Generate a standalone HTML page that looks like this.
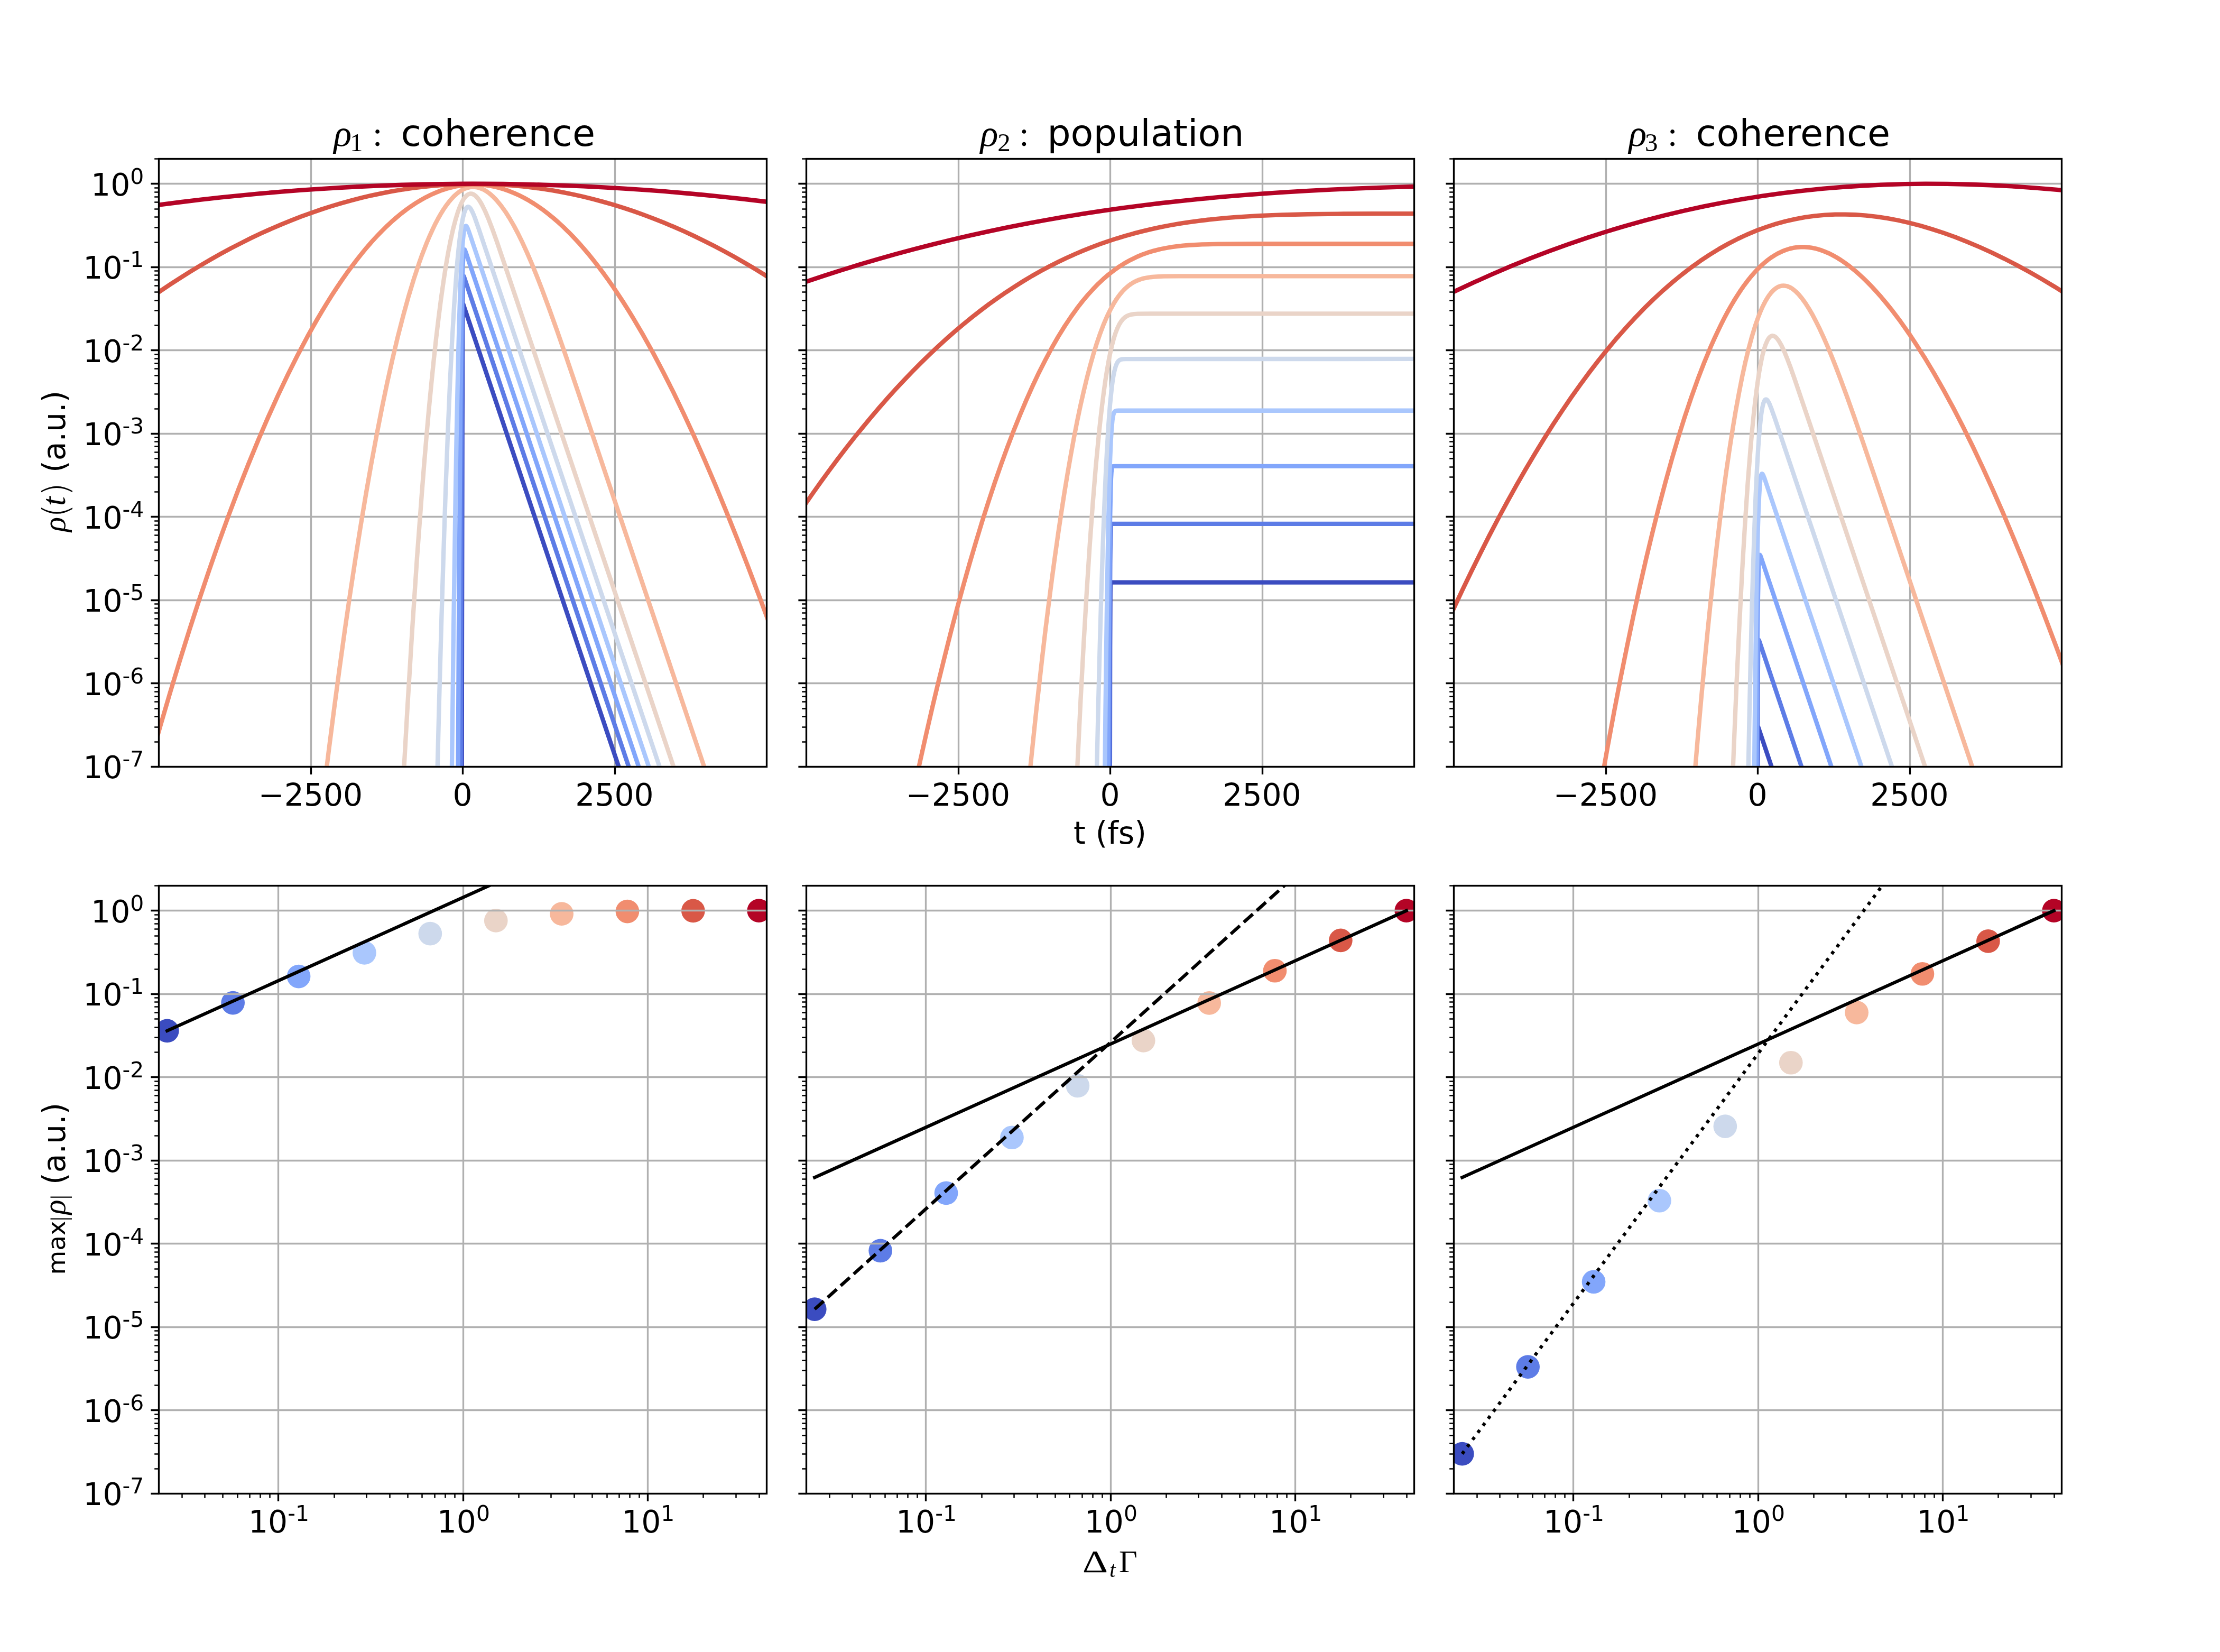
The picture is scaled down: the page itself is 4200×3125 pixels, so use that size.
<!DOCTYPE html>
<html lang="en"><head><meta charset="utf-8"><title>rho figure</title>
<style>html,body{margin:0;padding:0;background:#fff}svg{display:block;will-change:transform}text{font-family:"DejaVu Sans","Liberation Sans",sans-serif;fill:#000}.m{font-family:"Liberation Serif","DejaVu Serif",serif}.mi{font-family:"Liberation Serif","DejaVu Serif",serif;font-style:italic}.p{font-family:"DejaVu Sans",sans-serif;font-weight:200}.g{stroke:#b0b0b0;stroke-width:3.333;fill:none}.s{stroke:#000;stroke-width:3.333;fill:none;stroke-linecap:square}.tk{stroke:#000;stroke-width:3.333;fill:none}.mt{stroke:#000;stroke-width:2.5;fill:none}.c{fill:none;stroke-width:8.333;stroke-linejoin:round;stroke-linecap:butt}.k{fill:none;stroke:#000;stroke-width:6.25;stroke-linecap:square}.c,.k,circle{transform:translate(.25px,.25px)}</style></head><body>
<svg width="4200" height="3125" viewBox="0 0 4200 3125">
<rect width="4200" height="3125" fill="#fff"/>
<defs>
<clipPath id="cp00"><rect x="300.25" y="300.25" width="1150" height="1150"/></clipPath>
<clipPath id="cp01"><rect x="1525.25" y="300.25" width="1150" height="1150"/></clipPath>
<clipPath id="cp02"><rect x="2750.25" y="300.25" width="1150" height="1150"/></clipPath>
<clipPath id="cp10"><rect x="300.25" y="1675.25" width="1150" height="1150"/></clipPath>
<clipPath id="cp11"><rect x="1525.25" y="1675.25" width="1150" height="1150"/></clipPath>
<clipPath id="cp12"><rect x="2750.25" y="1675.25" width="1150" height="1150"/></clipPath>
</defs>
<g clip-path="url(#cp00)">
<path class="g" d="M588.5 300V1451M875.5 300V1451M1163.5 300V1451M300 1450.5H1451M300 1292.5H1451M300 1135.5H1451M300 977.5H1451M300 820.5H1451M300 662.5H1451M300 505.5H1451M300 347.5H1451"/>
<path class="c" stroke="#3b4cc0" d="M873 1850.1 873.7 1219 874.4 811.6 875 618.7 875.4 583.5 875.6 576.7 875.9 574.7 1304.8 1850.1"/>
<path class="c" stroke="#5d7ce6" d="M870.5 1850.2 871.9 1205.7 873.4 783 874.1 655.7 874.9 573.7 875.7 532.9 876.2 524.3 876.4 522.4 876.8 521.8 877.3 522.6 878.5 526 1323.7 1850"/>
<path class="c" stroke="#82a6fb" d="M864.4 1850.2 866.1 1495.8 867.7 1196.1 869.4 950.9 871 759.1 872.7 622.8 874.4 532.8 875.2 504.5 876.2 485.5 877.2 475.1 877.7 472.6 878.1 472 878.4 471.8 879 472.2 879.7 473.6 882.3 481 1342.6 1850.1"/>
<path class="c" stroke="#aac7fd" d="M850.5 1850.3 854.2 1493.5 857.8 1190.3 861.5 939.6 863.3 834 865.2 741.2 867 662.7 868.9 596.2 870.7 541.3 872.6 497.9 874.6 465.8 875.6 453.6 876.6 443.8 877.6 436.4 878.7 431.2 879.9 428.1 880.5 427.4 881.2 427.1 881.9 427.4 882.6 428.1 884.3 431.2 886.4 436.7 890 447 1361.7 1850.1"/>
<path class="c" stroke="#cdd9ec" d="M818.3 1850.1 822.3 1665.3 826.4 1493.6 830.4 1334.5 834.5 1188.1 838.6 1054.6 842.6 933.9 846.7 825.5 850.8 729.8 854.9 647.4 859 576.9 863.2 518.2 865.2 493.2 867.3 471.1 869.4 451.8 871.6 435.4 873.7 421.5 875.9 410.3 878.2 401.8 880.5 395.7 881.6 393.6 882.8 392.1 884.1 391.2 885.3 390.9 886.2 391 887.2 391.4 889.1 393.2 891.1 396.1 893.3 400.3 895.7 405.6 898.4 412.5 905.9 433.9 1382 1850"/>
<path class="c" stroke="#ead4c8" d="M743.8 1850.3 752.8 1666.5 761.7 1495.1 770.7 1336.2 779.7 1189.5 788.7 1055.1 797.8 932.9 802.3 876.4 806.8 822.8 811.3 772.3 815.9 724.9 820.4 680.7 824.9 639.4 829.5 601.1 834 565.8 838.6 533.5 843.1 504 847.7 477.4 852.3 453.8 856.9 433.1 861.6 415.2 866.2 400.1 868.6 393.6 871 387.8 873.3 382.7 875.7 378.3 878.1 374.6 880.6 371.5 883 369.2 885.4 367.5 887.9 366.5 890.4 366.2 892.9 366.5 895.5 367.5 898 369.1 900.7 371.4 903.3 374.4 906.1 378 908.9 382.4 911.7 387.4 917.7 399.5 924.2 414.7 931.5 433.8 940.3 458.4 969.1 543.3 1408.5 1850"/>
<path class="c" stroke="#f7b89c" d="M572.2 1850.1 582.2 1757.4 592.2 1667.4 602.2 1580.5 612.2 1496.6 622.2 1416 632.2 1338.1 642.2 1263.2 652.2 1191.3 662.2 1122.4 672.2 1056.5 682.2 993.6 692.2 933.7 702.2 876.8 712.3 822.7 722.3 771.6 732.3 723.6 742.4 678.5 752.4 636.4 762.5 597.2 772.5 561 782.6 527.7 792.7 497.3 797.7 483.2 802.8 469.9 807.8 457.3 812.9 445.4 818 434.2 823 423.8 828.1 414.1 833.2 405.1 838.3 396.8 843.4 389.2 848.5 382.4 853.6 376.3 858.7 370.9 863.8 366.3 869 362.3 874.1 359.1 879.3 356.6 884.4 354.8 889.6 353.7 894.8 353.4 898.5 353.6 902.3 354.1 906 355 909.7 356.3 913.5 357.9 917.3 359.9 921.1 362.3 924.8 365 928.6 368.1 932.4 371.6 936.3 375.4 940.1 379.6 947.9 389.1 955.8 400.1 963.7 412.5 971.8 426.5 980 442 988.4 459.2 997 478 1005.9 498.7 1015.1 521.4 1024.9 546.4 1038.4 582.7 1053.5 624.8 1070.9 674.9 1093 739.8 1466.6 1850.4"/>
<path class="c" stroke="#f18d6f" d="M265.5 1507.6 284.1 1440.1 302.6 1374.7 321.2 1311.2 339.8 1249.8 358.4 1190.4 377 1133.1 395.6 1077.8 414.2 1024.5 432.8 973.3 451.4 924 470 876.9 488.6 831.7 507.2 788.5 525.8 747.4 544.4 708.3 563 671.2 581.6 636.1 591 619.4 600.3 603.1 609.6 587.3 618.9 572.1 628.2 557.3 637.5 543.1 646.8 529.4 656.1 516.1 665.5 503.4 674.8 491.2 684.1 479.5 693.4 468.2 702.7 457.5 712.1 447.3 721.4 437.6 730.7 428.4 740 419.7 749.4 411.5 758.7 403.8 768 396.6 777.4 389.9 786.7 383.8 796.1 378.1 805.4 372.9 814.8 368.2 824.2 364.1 833.5 360.4 842.9 357.2 852.2 354.6 861.6 352.4 870.8 350.8 880.1 349.6 889.3 349 898.6 348.8 907.8 349.1 917 349.9 926.3 351.2 935.5 353 944.8 355.3 954.1 358.1 963.3 361.3 972.6 365.1 981.9 369.3 991.2 374 1000.5 379.2 1009.8 384.9 1019.1 391.1 1028.4 397.7 1037.7 404.9 1047 412.5 1056.4 420.7 1065.7 429.3 1075.1 438.4 1084.4 448 1093.8 458.1 1103.2 468.7 1112.6 479.8 1122 491.4 1131.5 503.5 1140.9 516 1150.4 529.1 1159.9 542.7 1169.2 556.6 1178.6 570.9 1188 585.7 1197.4 601.1 1216.3 633.2 1235.3 667.3 1254.4 703.5 1273.7 741.7 1293.2 782.2 1312.9 824.8 1332.6 869.3 1352.7 916.2 1373.1 965.6 1394 1017.7 1415.4 1072.7 1437.4 1131 1460.4 1193.1 1484.5 1259.9"/>
<path class="c" stroke="#d95847" d="M265.5 576.7 284.6 563.1 303.5 550 322.5 537.3 341.6 524.9 360.6 513 379.6 501.5 398.7 490.4 417.7 479.7 436.7 469.4 455.8 459.6 474.8 450.1 493.8 441.1 512.9 432.5 531.9 424.3 550.9 416.6 570 409.2 589 402.3 608 395.7 627.1 389.6 646.1 383.9 665.1 378.7 684.2 373.8 703.2 369.3 722.3 365.3 741.3 361.7 760.3 358.5 779.4 355.7 798.4 353.3 817.4 351.4 836.5 349.8 855.5 348.7 874.6 348 893.6 347.7 912.7 347.8 931.8 348.3 950.8 349.3 969.8 350.6 988.9 352.4 1007.9 354.6 1027 357.2 1046 360.2 1065 363.7 1084.1 367.5 1103.2 371.8 1122.2 376.5 1141.3 381.6 1160.3 387.1 1179.4 393 1198.4 399.3 1217.5 406.1 1236.6 413.3 1255.7 420.9 1274.7 428.9 1293.8 437.3 1312.8 446.1 1331.9 455.4 1350.9 465 1370 475.1 1389.1 485.6 1408.2 496.6 1427.3 507.9 1446.3 519.6 1465.4 531.8 1484.5 544.4"/>
<path class="c" stroke="#b40426" d="M265.6 392.1 303.6 386.9 341.8 382 379.9 377.4 417.9 373.2 456 369.3 494.1 365.7 532.2 362.4 570.3 359.4 608.4 356.8 646.5 354.5 684.6 352.5 722.6 350.9 760.7 349.5 798.8 348.5 836.9 347.8 875 347.5 913.1 347.4 951.2 347.7 989.3 348.3 1027.4 349.3 1065.4 350.6 1103.5 352.1 1141.6 354.1 1179.7 356.3 1217.8 358.9 1255.9 361.7 1294 365 1332.1 368.5 1370.1 372.4 1408.2 376.5 1446.3 381 1484.4 385.9"/>
</g>
<g clip-path="url(#cp01)">
<path class="g" d="M1813.5 300V1451M2100.5 300V1451M2388.5 300V1451M1525 1450.5H2676M1525 1292.5H2676M1525 1135.5H2676M1525 977.5H2676M1525 820.5H2676M1525 662.5H2676M1525 505.5H2676M1525 347.5H2676"/>
<path class="c" stroke="#3b4cc0" d="M2099.1 1850.4 2099.9 1223.9 2100.4 1122.8 2100.6 1105.8 2100.8 1102.6 2101.1 1101.4 2101.8 1101.3 2709.5 1101.3"/>
<path class="c" stroke="#5d7ce6" d="M2097.7 1850.2 2098.7 1415.1 2099.6 1143.5 2100.1 1067.5 2100.7 1020.3 2101.3 997.8 2101.6 992.9 2102.2 990.9 2102.6 990.6 2103.8 990.6 2709.5 990.6"/>
<path class="c" stroke="#82a6fb" d="M2094.4 1850.1 2096.6 1375.1 2097.7 1202.3 2098.8 1070.5 2099.9 980.8 2101.1 923.1 2101.7 905.3 2102.4 893.2 2103.2 886.1 2103.7 884 2104.3 882.6 2104.7 882.1 2105.4 881.8 2107.8 881.6 2709.5 881.6"/>
<path class="c" stroke="#aac7fd" d="M2086.3 1850.5 2088.8 1575.5 2091.2 1344.2 2093.7 1155.9 2096.2 1009.3 2098.7 905.2 2100 866.1 2101.3 835.2 2102.7 812.3 2104.2 795.8 2105 789.8 2105.9 785.2 2106.9 781.7 2107.9 779.3 2109.1 777.8 2110.5 777 2112.3 776.6 2115.6 776.5 2709.5 776.5"/>
<path class="c" stroke="#cdd9ec" d="M2067.1 1850.5 2072.4 1567.3 2075.1 1441.7 2077.8 1326.2 2080.5 1221.1 2083.2 1126.1 2085.9 1041.3 2088.7 966.5 2091.4 902.6 2094.2 847.8 2097 801.8 2099.9 764 2102.9 734.4 2104.4 722.4 2106 712.1 2107.7 703.5 2109.4 696.4 2111.2 690.7 2113.2 686.3 2114.5 684.2 2115.9 682.5 2117.5 681.2 2119.2 680.2 2121.1 679.6 2123.3 679.1 2129.9 678.8 2709.5 678.7"/>
<path class="c" stroke="#ead4c8" d="M2021.2 1850.2 2026.9 1704.7 2032.6 1568.5 2038.4 1441.9 2044.1 1325.2 2049.9 1217.5 2055.7 1119.2 2061.5 1030 2067.3 950.1 2073.1 879.9 2079 818.2 2082 790.4 2085 764.8 2088 741.2 2091 719.6 2094.1 700.1 2097.2 682.5 2100.3 666.7 2103.6 652.6 2106.8 640.4 2110.2 629.8 2113.7 620.8 2117.3 613.3 2120.5 608.1 2123.8 603.9 2127.4 600.5 2131.2 597.8 2135.3 596 2140 594.7 2145.6 593.8 2152.7 593.4 2176.6 593.2 2709.5 593.2"/>
<path class="c" stroke="#f7b89c" d="M1912.7 1850 1924.5 1712 1936.3 1582.2 1948.1 1460.3 1960 1346.3 1971.9 1240.2 1977.8 1190.1 1983.8 1142 1989.7 1095.9 1995.7 1051.6 2001.7 1009.2 2007.7 968.8 2013.7 930.5 2019.7 894.1 2025.7 859.7 2031.7 827 2037.7 796.3 2043.8 767.2 2050 740 2056.1 714.6 2062.3 691 2068.5 669.2 2074.8 649.1 2081.1 630.7 2087.4 614 2093.9 598.9 2100.5 585.4 2107.2 573.3 2111 567.2 2114.9 561.5 2118.9 556.2 2122.9 551.5 2127 547.1 2131.2 543.2 2135.5 539.7 2140 536.5 2144.5 533.8 2149.1 531.4 2154 529.3 2159.1 527.6 2164.5 526.1 2170.2 525 2176.4 524 2183.2 523.3 2191.4 522.8 2201.1 522.4 2229.9 522.1 2709.5 522.1"/>
<path class="c" stroke="#f18d6f" d="M1658.3 1850.3 1670 1787.2 1681.7 1725.4 1693.4 1665.5 1705.1 1607 1716.8 1550.1 1728.5 1494.6 1740.3 1440.7 1752 1388.3 1763.7 1337.5 1775.5 1288.2 1787.3 1240.4 1799 1194.1 1810.8 1149.4 1822.6 1106.2 1834.4 1064.5 1846.3 1024.3 1858 985.7 1869.9 948.5 1881.7 912.9 1893.6 878.7 1905.5 845.9 1917.4 814.8 1929.4 785 1941.4 756.7 1953.4 729.8 1965.4 704.3 1977.6 680.3 1989.7 657.6 2001.9 636.4 2014.2 616.5 2026.6 598 2039 580.8 2048.5 568.6 2058.1 557.3 2067.7 546.7 2077.4 536.7 2087.2 527.5 2097.1 519 2107.2 511.2 2117.4 504 2127.7 497.5 2138.2 491.7 2148.9 486.4 2159.9 481.7 2171.2 477.6 2182.9 474.1 2195 471 2207.8 468.5 2217.3 466.9 2227.3 465.6 2237.8 464.4 2249 463.5 2273.8 462.2 2304.5 461.4 2374.5 461 2709.5 461"/>
<path class="c" stroke="#d95847" d="M1490.5 1002.2 1506.1 978.6 1521.8 955.5 1537.4 933 1553.1 910.9 1568.8 889.4 1584.5 868.3 1600.2 847.8 1615.9 827.8 1631.7 808.3 1647.4 789.3 1663.2 770.8 1679 752.8 1694.8 735.3 1710.7 718.3 1726.5 701.8 1742.5 685.7 1758.4 670.2 1774.3 655.2 1790.3 640.7 1806.3 626.6 1822.3 613.1 1838.4 600 1854.6 587.4 1870.8 575.2 1887 563.6 1903.3 552.4 1919.7 541.7 1936.1 531.4 1952.6 521.5 1969.2 512.2 1985.9 503.3 2002.7 494.8 2017.9 487.5 2033.4 480.5 2048.9 473.9 2064.5 467.6 2080.3 461.7 2096.2 456.1 2112.2 450.9 2128.5 446 2144.8 441.4 2161.5 437.1 2178.3 433.1 2195.4 429.4 2212.8 426 2230.5 422.9 2248.6 420.1 2267.2 417.6 2284.6 415.5 2302.6 413.6 2321 411.9 2340.1 410.4 2380.6 407.9 2425.4 406.1 2473.3 405 2530.3 404.3 2601.4 403.9 2709.5 403.8"/>
<path class="c" stroke="#b40426" d="M1490.6 544.5 1524.3 532.8 1558.3 521.5 1592.3 510.6 1626.4 500.1 1660.6 490 1695 480.3 1729.5 471 1764.2 462.1 1799 453.5 1834 445.4 1869.2 437.6 1904.6 430.2 1940.2 423.1 1976 416.5 2012.2 410.1 2048.7 404.2 2084.9 398.6 2121.5 393.4 2158.5 388.6 2196 384 2234 379.8 2272.5 375.9 2311.7 372.2 2351.5 368.9 2391.9 365.9 2433.2 363.1 2475.6 360.6 2519.1 358.4 2564 356.4 2610.4 354.7 2658.8 353.2 2709.4 351.9"/>
</g>
<g clip-path="url(#cp02)">
<path class="g" d="M3038.5 300V1451M3325.5 300V1451M3613.5 300V1451M2750 1450.5H3901M2750 1292.5H3901M2750 1135.5H3901M2750 977.5H3901M2750 820.5H3901M2750 662.5H3901M2750 505.5H3901M2750 347.5H3901"/>
<path class="c" stroke="#3b4cc0" d="M3324.6 1850.2 3325.1 1455.8 3325.5 1390 3325.7 1378.1 3326 1374.9 3485.9 1850"/>
<path class="c" stroke="#5d7ce6" d="M3323.7 1850 3324.4 1527.4 3325.1 1326.3 3325.9 1233.2 3326.4 1215.3 3326.7 1211.5 3327.1 1210.3 3327.6 1211 3328.6 1213.9 3542.5 1850.1"/>
<path class="c" stroke="#82a6fb" d="M3321.3 1850.5 3323 1456.2 3323.9 1313.3 3324.8 1204.5 3325.7 1130 3326.7 1081.8 3327.2 1066.9 3327.8 1056.9 3328.4 1051.3 3328.8 1050 3329.2 1049.5 3329.7 1049.9 3330.3 1051.1 3332.5 1057.4 3599.1 1850.2"/>
<path class="c" stroke="#aac7fd" d="M3315.4 1850.3 3317.3 1600.8 3319.3 1392.1 3321.3 1223.5 3323.4 1092.8 3325.5 1000.5 3326.6 966.2 3327.8 939.3 3329 919.6 3330.2 906.1 3330.9 901.6 3331.7 898.4 3332.5 896.6 3332.9 896.1 3333.3 896 3333.9 896.2 3334.5 896.8 3335.9 899.5 3337.8 904.2 3340.8 913 3655.9 1850"/>
<path class="c" stroke="#cdd9ec" d="M3300.6 1850.3 3305.1 1572.2 3309.7 1337.4 3312 1236.3 3314.3 1145.5 3316.7 1065 3319.1 994.7 3321.4 935.2 3323.9 884.9 3326.3 843.5 3328.9 810.5 3331.5 785.8 3332.9 776.3 3334.4 768.6 3335.8 762.7 3337.4 758.6 3338.2 757.1 3339 756.1 3339.8 755.5 3340.7 755.3 3342.2 755.8 3343.7 757.3 3345.3 759.8 3347.2 763.3 3351.4 773.9 3357.9 792.1 3713.6 1850"/>
<path class="c" stroke="#ead4c8" d="M3264.4 1850.6 3269.5 1694.2 3274.7 1549.6 3279.9 1416.1 3285.1 1293.8 3290.4 1182.7 3295.6 1082.2 3301 992.6 3306.3 913.7 3311.7 845.9 3314.4 815.8 3317.1 788.2 3319.9 763 3322.7 740.1 3325.5 719.5 3328.3 701.4 3331.2 685.6 3334.1 672 3337.1 660.6 3340.2 651.3 3343.3 644.1 3344.9 641.3 3346.5 639 3348.2 637.3 3349.9 636 3351.6 635.2 3353.3 635 3355.2 635.3 3357.1 636.1 3359.1 637.5 3361.2 639.5 3363.3 642.1 3365.5 645.3 3370.1 653.4 3375.1 663.9 3380.6 677.3 3386.9 693.9 3394.5 715.4 3421.1 793.6 3776.3 1850.1"/>
<path class="c" stroke="#f7b89c" d="M3177.1 1850.2 3188.8 1685.3 3200.5 1532 3206.4 1459.5 3212.2 1390.2 3218.1 1323.3 3224 1259.7 3229.9 1198.6 3235.8 1140.6 3241.8 1085.1 3247.7 1032.7 3253.7 982.9 3259.6 936.2 3265.6 892 3271.7 850.3 3277.7 811.7 3283.7 775.9 3289.8 742.7 3295.8 712.1 3301.9 684.2 3308.1 658.8 3314.3 635.9 3320.6 615.5 3326.9 597.7 3330.1 589.7 3333.3 582.3 3336.6 575.5 3339.8 569.3 3343.1 563.8 3346.4 558.8 3349.7 554.4 3353.1 550.6 3356.5 547.4 3359.9 544.8 3363.3 542.7 3366.8 541.3 3370.4 540.4 3373.9 540.1 3376.7 540.3 3379.5 540.8 3382.2 541.6 3385.1 542.8 3388 544.3 3390.8 546.1 3393.8 548.3 3396.7 550.8 3402.7 556.8 3408.9 564.2 3415.3 573 3421.8 583.2 3428.5 594.6 3435.3 607.6 3442.4 621.9 3449.7 637.7 3457.3 655.1 3465.2 674.1 3473.4 694.9 3482.1 717.7 3494.7 751.8 3508.7 791.2 3524.9 838.1 3545.4 898.3 3865.5 1850"/>
<path class="c" stroke="#f18d6f" d="M2969.5 1850 2981.5 1770.7 2993.5 1693.8 3005.5 1619.4 3017.5 1547.3 3029.6 1477.7 3041.6 1410.2 3053.7 1345.1 3065.7 1282.8 3077.9 1222.5 3089.9 1164.8 3102 1109.5 3114.1 1056.5 3126.3 1005.9 3138.4 957.7 3150.6 911.7 3162.8 868 3175 826.8 3187.2 788 3199.5 751.4 3211.8 717.1 3224.1 685.1 3236.4 655.4 3242.7 641.3 3248.9 627.9 3255.1 615 3261.3 602.6 3267.6 590.8 3273.9 579.5 3280.2 568.8 3286.5 558.7 3292.8 549.1 3299.2 539.9 3305.6 531.4 3311.9 523.5 3318.4 516 3324.8 509.1 3331.3 502.7 3337.8 496.9 3344.3 491.5 3350.9 486.7 3357.5 482.5 3364.2 478.7 3371.1 475.4 3378.1 472.6 3385.1 470.4 3392.2 468.7 3399.3 467.6 3406.5 467 3413.8 467 3421.1 467.6 3428.5 468.7 3436 470.3 3443.6 472.5 3451.2 475.3 3459 478.6 3466.8 482.5 3474.7 486.9 3482.7 491.9 3490.9 497.5 3499.2 503.7 3507.6 510.4 3516 517.7 3524.5 525.5 3533.2 534 3541.8 542.9 3550.6 552.5 3559.5 562.6 3568.4 573.2 3577.4 584.3 3586.3 596 3595.4 608.1 3604.4 620.8 3613.6 634 3622.7 647.7 3640.6 675.7 3658.6 705.6 3676.7 737.4 3695 771.1 3713.4 806.7 3731.9 844.2 3750.6 883.7 3769.5 925.2 3788.6 968.5 3807.8 1014 3827.5 1061.9 3847.6 1112.4 3868.1 1165.5 3889.4 1221.7 3911.4 1281.6 3934.5 1345.5"/>
<path class="c" stroke="#d95847" d="M2715.5 1227.4 2732.5 1189.2 2749.5 1151.9 2766.6 1115.5 2783.7 1080.1 2800.8 1045.6 2817.8 1012 2834.9 979.4 2852 947.8 2869.1 917 2886.3 887.1 2903.4 858.3 2920.6 830.2 2937.8 803.1 2955 777 2972.2 751.7 2989.5 727.4 3006.7 704 3024 681.5 3041.4 659.9 3058.7 639.2 3076.1 619.5 3093.5 600.6 3110.9 582.6 3128.4 565.5 3145.9 549.3 3163.5 534 3181.1 519.6 3198.8 506 3216.5 493.3 3234.3 481.5 3252.2 470.5 3270.1 460.5 3287.9 451.4 3305.7 443.1 3323.6 435.7 3341.6 429.1 3359.7 423.3 3378 418.3 3396.4 414.1 3414.9 410.7 3433.6 408.2 3452.4 406.4 3471.5 405.4 3490.7 405.3 3510.2 405.9 3529.9 407.3 3549.8 409.6 3570 412.6 3590.8 416.5 3611.8 421.2 3633.2 426.8 3654.9 433.2 3676.9 440.4 3699.2 448.4 3721.8 457.3 3744.7 467 3767.9 477.5 3791.3 488.9 3814.8 501 3838.6 513.9 3862.4 527.5 3886.4 541.8 3910.3 556.9 3934.5 572.7"/>
<path class="c" stroke="#b40426" d="M2715.6 568.7 2751.2 551.2 2786.9 534.5 2822.7 518.5 2858.5 503.2 2894.4 488.7 2930.4 474.9 2966.5 461.8 3002.7 449.5 3038.9 437.9 3075.3 426.9 3111.8 416.8 3148.5 407.3 3185.3 398.5 3222.3 390.4 3259.5 383 3296.8 376.4 3334.3 370.4 3371.9 365.2 3409.7 360.6 3447.8 356.7 3486.2 353.5 3524.9 351 3563.9 349.1 3603.3 347.9 3643 347.4 3683.2 347.6 3723.8 348.5 3764.9 350 3806.4 352.2 3848.5 355.1 3891.1 358.7 3934.4 362.9"/>
</g>
<g clip-path="url(#cp10)">
<circle cx="316" cy="1949.7" r="22.35" fill="#3b4cc0"/>
<circle cx="440.4" cy="1896.8" r="22.35" fill="#5d7ce6"/>
<circle cx="564.8" cy="1846.8" r="22.35" fill="#82a6fb"/>
<circle cx="689.2" cy="1802.1" r="22.35" fill="#aac7fd"/>
<circle cx="813.6" cy="1765.9" r="22.35" fill="#cdd9ec"/>
<circle cx="938" cy="1741.2" r="22.35" fill="#ead4c8"/>
<circle cx="1062.4" cy="1728.4" r="22.35" fill="#f7b89c"/>
<circle cx="1186.7" cy="1723.8" r="22.35" fill="#f18d6f"/>
<circle cx="1311.1" cy="1722.7" r="22.35" fill="#d95847"/>
<circle cx="1435.5" cy="1722.4" r="22.35" fill="#b40426"/>
<path class="g" d="M526.5 1675V2826M876.5 1675V2826M1225.5 1675V2826M300 2825.5H1451M300 2667.5H1451M300 2510.5H1451M300 2352.5H1451M300 2195.5H1451M300 2037.5H1451M300 1880.5H1451M300 1722.5H1451"/>
<path class="k" d="M316 1949.7L1435.5 1445"/>
</g>
<g clip-path="url(#cp11)">
<circle cx="1541" cy="2476.3" r="22.35" fill="#3b4cc0"/>
<circle cx="1665.4" cy="2365.6" r="22.35" fill="#5d7ce6"/>
<circle cx="1789.8" cy="2256.6" r="22.35" fill="#82a6fb"/>
<circle cx="1914.2" cy="2151.5" r="22.35" fill="#aac7fd"/>
<circle cx="2038.6" cy="2053.7" r="22.35" fill="#cdd9ec"/>
<circle cx="2163" cy="1968.2" r="22.35" fill="#ead4c8"/>
<circle cx="2287.4" cy="1897.1" r="22.35" fill="#f7b89c"/>
<circle cx="2411.7" cy="1836" r="22.35" fill="#f18d6f"/>
<circle cx="2536.1" cy="1778.7" r="22.35" fill="#d95847"/>
<circle cx="2660.5" cy="1722.4" r="22.35" fill="#b40426"/>
<path class="g" d="M1751.5 1675V2826M2101.5 1675V2826M2450.5 1675V2826M1525 2825.5H2676M1525 2667.5H2676M1525 2510.5H2676M1525 2352.5H2676M1525 2195.5H2676M1525 2037.5H2676M1525 1880.5H2676M1525 1722.5H2676"/>
<path class="k" d="M1541 2227.1L2660.5 1722.4"/>
<path class="k" style="stroke-linecap:butt" stroke-dasharray="23.125 10" d="M1541 2476.3L2660.5 1466.9"/>
</g>
<g clip-path="url(#cp12)">
<circle cx="2766" cy="2749.9" r="22.35" fill="#3b4cc0"/>
<circle cx="2890.4" cy="2585.3" r="22.35" fill="#5d7ce6"/>
<circle cx="3014.8" cy="2424.5" r="22.35" fill="#82a6fb"/>
<circle cx="3139.2" cy="2271" r="22.35" fill="#aac7fd"/>
<circle cx="3263.6" cy="2130.3" r="22.35" fill="#cdd9ec"/>
<circle cx="3388" cy="2010" r="22.35" fill="#ead4c8"/>
<circle cx="3512.4" cy="1915.1" r="22.35" fill="#f7b89c"/>
<circle cx="3636.7" cy="1842" r="22.35" fill="#f18d6f"/>
<circle cx="3761.1" cy="1780.2" r="22.35" fill="#d95847"/>
<circle cx="3885.5" cy="1722.4" r="22.35" fill="#b40426"/>
<path class="g" d="M2976.5 1675V2826M3326.5 1675V2826M3675.5 1675V2826M2750 2825.5H3901M2750 2667.5H3901M2750 2510.5H3901M2750 2352.5H3901M2750 2195.5H3901M2750 2037.5H3901M2750 1880.5H3901M2750 1722.5H3901"/>
<path class="k" d="M2766 2227.1L3885.5 1722.4"/>
<path class="k" style="stroke-linecap:butt" stroke-dasharray="6.25 10.3125" d="M2766 2749.9L3885.5 1235.8"/>
</g>
<path class="tk" d="M300.5 1450.5h-15.1M300.5 1292.5h-15.1M300.5 1135.5h-15.1M300.5 977.5h-15.1M300.5 820.5h-15.1M300.5 662.5h-15.1M300.5 505.5h-15.1M300.5 347.5h-15.1M588.5 1450.5v14.6M875.5 1450.5v14.6M1163.5 1450.5v14.6"/>
<path class="mt" d="M300.5 1403.5h-8.3M300.5 1375.5h-8.3M300.5 1355.5h-8.3M300.5 1340.5h-8.3M300.5 1327.5h-8.3M300.5 1317.5h-8.3M300.5 1308.5h-8.3M300.5 1300.5h-8.3M300.5 1245.5h-8.3M300.5 1217.5h-8.3M300.5 1198.5h-8.3M300.5 1182.5h-8.3M300.5 1170.5h-8.3M300.5 1159.5h-8.3M300.5 1150.5h-8.3M300.5 1142.5h-8.3M300.5 1088.5h-8.3M300.5 1060.5h-8.3M300.5 1040.5h-8.3M300.5 1025.5h-8.3M300.5 1012.5h-8.3M300.5 1002.5h-8.3M300.5 993.5h-8.3M300.5 985.5h-8.3M300.5 930.5h-8.3M300.5 902.5h-8.3M300.5 883.5h-8.3M300.5 867.5h-8.3M300.5 855.5h-8.3M300.5 844.5h-8.3M300.5 835.5h-8.3M300.5 827.5h-8.3M300.5 773.5h-8.3M300.5 745.5h-8.3M300.5 725.5h-8.3M300.5 710.5h-8.3M300.5 697.5h-8.3M300.5 687.5h-8.3M300.5 678.5h-8.3M300.5 670.5h-8.3M300.5 615.5h-8.3M300.5 587.5h-8.3M300.5 568.5h-8.3M300.5 552.5h-8.3M300.5 540.5h-8.3M300.5 529.5h-8.3M300.5 520.5h-8.3M300.5 512.5h-8.3M300.5 458.5h-8.3M300.5 430.5h-8.3M300.5 410.5h-8.3M300.5 395.5h-8.3M300.5 382.5h-8.3M300.5 372.5h-8.3M300.5 363.5h-8.3M300.5 355.5h-8.3M300.5 300.5h-8.3"/>
<rect class="s" x="300.5" y="300.5" width="1150" height="1150"/>
<text x="272.3" y="1472.1" text-anchor="end" font-size="58.33">10<tspan dy="-21.8" font-size="40.83">-7</tspan></text>
<text x="272.3" y="1314.6" text-anchor="end" font-size="58.33">10<tspan dy="-21.8" font-size="40.83">-6</tspan></text>
<text x="272.3" y="1157.1" text-anchor="end" font-size="58.33">10<tspan dy="-21.8" font-size="40.83">-5</tspan></text>
<text x="272.3" y="999.6" text-anchor="end" font-size="58.33">10<tspan dy="-21.8" font-size="40.83">-4</tspan></text>
<text x="272.3" y="842.1" text-anchor="end" font-size="58.33">10<tspan dy="-21.8" font-size="40.83">-3</tspan></text>
<text x="272.3" y="684.5" text-anchor="end" font-size="58.33">10<tspan dy="-21.8" font-size="40.83">-2</tspan></text>
<text x="272.3" y="527" text-anchor="end" font-size="58.33">10<tspan dy="-21.8" font-size="40.83">-1</tspan></text>
<text x="272.3" y="369.5" text-anchor="end" font-size="58.33">10<tspan dy="-21.8" font-size="40.83">0</tspan></text>
<text x="587.5" y="1523.9" text-anchor="middle" font-size="58.33">−2500</text>
<text x="875" y="1523.9" text-anchor="middle" font-size="58.33">0</text>
<text x="1162.5" y="1523.9" text-anchor="middle" font-size="58.33">2500</text>
<path class="tk" d="M1525.5 1450.5h-15.1M1525.5 1292.5h-15.1M1525.5 1135.5h-15.1M1525.5 977.5h-15.1M1525.5 820.5h-15.1M1525.5 662.5h-15.1M1525.5 505.5h-15.1M1525.5 347.5h-15.1M1813.5 1450.5v14.6M2100.5 1450.5v14.6M2388.5 1450.5v14.6"/>
<path class="mt" d="M1525.5 1403.5h-8.3M1525.5 1375.5h-8.3M1525.5 1355.5h-8.3M1525.5 1340.5h-8.3M1525.5 1327.5h-8.3M1525.5 1317.5h-8.3M1525.5 1308.5h-8.3M1525.5 1300.5h-8.3M1525.5 1245.5h-8.3M1525.5 1217.5h-8.3M1525.5 1198.5h-8.3M1525.5 1182.5h-8.3M1525.5 1170.5h-8.3M1525.5 1159.5h-8.3M1525.5 1150.5h-8.3M1525.5 1142.5h-8.3M1525.5 1088.5h-8.3M1525.5 1060.5h-8.3M1525.5 1040.5h-8.3M1525.5 1025.5h-8.3M1525.5 1012.5h-8.3M1525.5 1002.5h-8.3M1525.5 993.5h-8.3M1525.5 985.5h-8.3M1525.5 930.5h-8.3M1525.5 902.5h-8.3M1525.5 883.5h-8.3M1525.5 867.5h-8.3M1525.5 855.5h-8.3M1525.5 844.5h-8.3M1525.5 835.5h-8.3M1525.5 827.5h-8.3M1525.5 773.5h-8.3M1525.5 745.5h-8.3M1525.5 725.5h-8.3M1525.5 710.5h-8.3M1525.5 697.5h-8.3M1525.5 687.5h-8.3M1525.5 678.5h-8.3M1525.5 670.5h-8.3M1525.5 615.5h-8.3M1525.5 587.5h-8.3M1525.5 568.5h-8.3M1525.5 552.5h-8.3M1525.5 540.5h-8.3M1525.5 529.5h-8.3M1525.5 520.5h-8.3M1525.5 512.5h-8.3M1525.5 458.5h-8.3M1525.5 430.5h-8.3M1525.5 410.5h-8.3M1525.5 395.5h-8.3M1525.5 382.5h-8.3M1525.5 372.5h-8.3M1525.5 363.5h-8.3M1525.5 355.5h-8.3M1525.5 300.5h-8.3"/>
<rect class="s" x="1525.5" y="300.5" width="1150" height="1150"/>
<text x="1812.5" y="1523.9" text-anchor="middle" font-size="58.33">−2500</text>
<text x="2100" y="1523.9" text-anchor="middle" font-size="58.33">0</text>
<text x="2387.5" y="1523.9" text-anchor="middle" font-size="58.33">2500</text>
<path class="tk" d="M2750.5 1450.5h-15.1M2750.5 1292.5h-15.1M2750.5 1135.5h-15.1M2750.5 977.5h-15.1M2750.5 820.5h-15.1M2750.5 662.5h-15.1M2750.5 505.5h-15.1M2750.5 347.5h-15.1M3038.5 1450.5v14.6M3325.5 1450.5v14.6M3613.5 1450.5v14.6"/>
<path class="mt" d="M2750.5 1403.5h-8.3M2750.5 1375.5h-8.3M2750.5 1355.5h-8.3M2750.5 1340.5h-8.3M2750.5 1327.5h-8.3M2750.5 1317.5h-8.3M2750.5 1308.5h-8.3M2750.5 1300.5h-8.3M2750.5 1245.5h-8.3M2750.5 1217.5h-8.3M2750.5 1198.5h-8.3M2750.5 1182.5h-8.3M2750.5 1170.5h-8.3M2750.5 1159.5h-8.3M2750.5 1150.5h-8.3M2750.5 1142.5h-8.3M2750.5 1088.5h-8.3M2750.5 1060.5h-8.3M2750.5 1040.5h-8.3M2750.5 1025.5h-8.3M2750.5 1012.5h-8.3M2750.5 1002.5h-8.3M2750.5 993.5h-8.3M2750.5 985.5h-8.3M2750.5 930.5h-8.3M2750.5 902.5h-8.3M2750.5 883.5h-8.3M2750.5 867.5h-8.3M2750.5 855.5h-8.3M2750.5 844.5h-8.3M2750.5 835.5h-8.3M2750.5 827.5h-8.3M2750.5 773.5h-8.3M2750.5 745.5h-8.3M2750.5 725.5h-8.3M2750.5 710.5h-8.3M2750.5 697.5h-8.3M2750.5 687.5h-8.3M2750.5 678.5h-8.3M2750.5 670.5h-8.3M2750.5 615.5h-8.3M2750.5 587.5h-8.3M2750.5 568.5h-8.3M2750.5 552.5h-8.3M2750.5 540.5h-8.3M2750.5 529.5h-8.3M2750.5 520.5h-8.3M2750.5 512.5h-8.3M2750.5 458.5h-8.3M2750.5 430.5h-8.3M2750.5 410.5h-8.3M2750.5 395.5h-8.3M2750.5 382.5h-8.3M2750.5 372.5h-8.3M2750.5 363.5h-8.3M2750.5 355.5h-8.3M2750.5 300.5h-8.3"/>
<rect class="s" x="2750.5" y="300.5" width="1150" height="1150"/>
<text x="3037.5" y="1523.9" text-anchor="middle" font-size="58.33">−2500</text>
<text x="3325" y="1523.9" text-anchor="middle" font-size="58.33">0</text>
<text x="3612.5" y="1523.9" text-anchor="middle" font-size="58.33">2500</text>
<path class="tk" d="M300.5 2825.5h-15.1M300.5 2667.5h-15.1M300.5 2510.5h-15.1M300.5 2352.5h-15.1M300.5 2195.5h-15.1M300.5 2037.5h-15.1M300.5 1880.5h-15.1M300.5 1722.5h-15.1M526.5 2825.5v14.6M876.5 2825.5v14.6M1225.5 2825.5v14.6"/>
<path class="mt" d="M300.5 2778.5h-8.3M300.5 2750.5h-8.3M300.5 2730.5h-8.3M300.5 2715.5h-8.3M300.5 2702.5h-8.3M300.5 2692.5h-8.3M300.5 2683.5h-8.3M300.5 2675.5h-8.3M300.5 2620.5h-8.3M300.5 2592.5h-8.3M300.5 2573.5h-8.3M300.5 2557.5h-8.3M300.5 2545.5h-8.3M300.5 2534.5h-8.3M300.5 2525.5h-8.3M300.5 2517.5h-8.3M300.5 2463.5h-8.3M300.5 2435.5h-8.3M300.5 2415.5h-8.3M300.5 2400.5h-8.3M300.5 2387.5h-8.3M300.5 2377.5h-8.3M300.5 2368.5h-8.3M300.5 2360.5h-8.3M300.5 2305.5h-8.3M300.5 2277.5h-8.3M300.5 2258.5h-8.3M300.5 2242.5h-8.3M300.5 2230.5h-8.3M300.5 2219.5h-8.3M300.5 2210.5h-8.3M300.5 2202.5h-8.3M300.5 2148.5h-8.3M300.5 2120.5h-8.3M300.5 2100.5h-8.3M300.5 2085.5h-8.3M300.5 2072.5h-8.3M300.5 2062.5h-8.3M300.5 2053.5h-8.3M300.5 2045.5h-8.3M300.5 1990.5h-8.3M300.5 1962.5h-8.3M300.5 1943.5h-8.3M300.5 1927.5h-8.3M300.5 1915.5h-8.3M300.5 1904.5h-8.3M300.5 1895.5h-8.3M300.5 1887.5h-8.3M300.5 1833.5h-8.3M300.5 1805.5h-8.3M300.5 1785.5h-8.3M300.5 1770.5h-8.3M300.5 1757.5h-8.3M300.5 1747.5h-8.3M300.5 1738.5h-8.3M300.5 1730.5h-8.3M300.5 1675.5h-8.3M344.5 2825.5v8.3M387.5 2825.5v8.3M421.5 2825.5v8.3M449.5 2825.5v8.3M472.5 2825.5v8.3M492.5 2825.5v8.3M510.5 2825.5v8.3M632.5 2825.5v8.3M693.5 2825.5v8.3M737.5 2825.5v8.3M771.5 2825.5v8.3M798.5 2825.5v8.3M822.5 2825.5v8.3M842.5 2825.5v8.3M860.5 2825.5v8.3M981.5 2825.5v8.3M1042.5 2825.5v8.3M1086.5 2825.5v8.3M1120.5 2825.5v8.3M1148.5 2825.5v8.3M1171.5 2825.5v8.3M1191.5 2825.5v8.3M1209.5 2825.5v8.3M1330.5 2825.5v8.3M1392.5 2825.5v8.3M1436.5 2825.5v8.3"/>
<rect class="s" x="300.5" y="1675.5" width="1150" height="1150"/>
<text x="272.3" y="2847.1" text-anchor="end" font-size="58.33">10<tspan dy="-21.8" font-size="40.83">-7</tspan></text>
<text x="272.3" y="2689.6" text-anchor="end" font-size="58.33">10<tspan dy="-21.8" font-size="40.83">-6</tspan></text>
<text x="272.3" y="2532.1" text-anchor="end" font-size="58.33">10<tspan dy="-21.8" font-size="40.83">-5</tspan></text>
<text x="272.3" y="2374.6" text-anchor="end" font-size="58.33">10<tspan dy="-21.8" font-size="40.83">-4</tspan></text>
<text x="272.3" y="2217.1" text-anchor="end" font-size="58.33">10<tspan dy="-21.8" font-size="40.83">-3</tspan></text>
<text x="272.3" y="2059.5" text-anchor="end" font-size="58.33">10<tspan dy="-21.8" font-size="40.83">-2</tspan></text>
<text x="272.3" y="1902" text-anchor="end" font-size="58.33">10<tspan dy="-21.8" font-size="40.83">-1</tspan></text>
<text x="272.3" y="1744.5" text-anchor="end" font-size="58.33">10<tspan dy="-21.8" font-size="40.83">0</tspan></text>
<text x="527.4" y="2899" text-anchor="middle" font-size="58.33">10<tspan dy="-21.8" font-size="40.83">-1</tspan></text>
<text x="876.8" y="2899" text-anchor="middle" font-size="58.33">10<tspan dy="-21.8" font-size="40.83">0</tspan></text>
<text x="1226.2" y="2899" text-anchor="middle" font-size="58.33">10<tspan dy="-21.8" font-size="40.83">1</tspan></text>
<path class="tk" d="M1525.5 2825.5h-15.1M1525.5 2667.5h-15.1M1525.5 2510.5h-15.1M1525.5 2352.5h-15.1M1525.5 2195.5h-15.1M1525.5 2037.5h-15.1M1525.5 1880.5h-15.1M1525.5 1722.5h-15.1M1751.5 2825.5v14.6M2101.5 2825.5v14.6M2450.5 2825.5v14.6"/>
<path class="mt" d="M1525.5 2778.5h-8.3M1525.5 2750.5h-8.3M1525.5 2730.5h-8.3M1525.5 2715.5h-8.3M1525.5 2702.5h-8.3M1525.5 2692.5h-8.3M1525.5 2683.5h-8.3M1525.5 2675.5h-8.3M1525.5 2620.5h-8.3M1525.5 2592.5h-8.3M1525.5 2573.5h-8.3M1525.5 2557.5h-8.3M1525.5 2545.5h-8.3M1525.5 2534.5h-8.3M1525.5 2525.5h-8.3M1525.5 2517.5h-8.3M1525.5 2463.5h-8.3M1525.5 2435.5h-8.3M1525.5 2415.5h-8.3M1525.5 2400.5h-8.3M1525.5 2387.5h-8.3M1525.5 2377.5h-8.3M1525.5 2368.5h-8.3M1525.5 2360.5h-8.3M1525.5 2305.5h-8.3M1525.5 2277.5h-8.3M1525.5 2258.5h-8.3M1525.5 2242.5h-8.3M1525.5 2230.5h-8.3M1525.5 2219.5h-8.3M1525.5 2210.5h-8.3M1525.5 2202.5h-8.3M1525.5 2148.5h-8.3M1525.5 2120.5h-8.3M1525.5 2100.5h-8.3M1525.5 2085.5h-8.3M1525.5 2072.5h-8.3M1525.5 2062.5h-8.3M1525.5 2053.5h-8.3M1525.5 2045.5h-8.3M1525.5 1990.5h-8.3M1525.5 1962.5h-8.3M1525.5 1943.5h-8.3M1525.5 1927.5h-8.3M1525.5 1915.5h-8.3M1525.5 1904.5h-8.3M1525.5 1895.5h-8.3M1525.5 1887.5h-8.3M1525.5 1833.5h-8.3M1525.5 1805.5h-8.3M1525.5 1785.5h-8.3M1525.5 1770.5h-8.3M1525.5 1757.5h-8.3M1525.5 1747.5h-8.3M1525.5 1738.5h-8.3M1525.5 1730.5h-8.3M1525.5 1675.5h-8.3M1569.5 2825.5v8.3M1612.5 2825.5v8.3M1646.5 2825.5v8.3M1674.5 2825.5v8.3M1697.5 2825.5v8.3M1717.5 2825.5v8.3M1735.5 2825.5v8.3M1857.5 2825.5v8.3M1918.5 2825.5v8.3M1962.5 2825.5v8.3M1996.5 2825.5v8.3M2023.5 2825.5v8.3M2047.5 2825.5v8.3M2067.5 2825.5v8.3M2085.5 2825.5v8.3M2206.5 2825.5v8.3M2267.5 2825.5v8.3M2311.5 2825.5v8.3M2345.5 2825.5v8.3M2373.5 2825.5v8.3M2396.5 2825.5v8.3M2416.5 2825.5v8.3M2434.5 2825.5v8.3M2555.5 2825.5v8.3M2617.5 2825.5v8.3M2661.5 2825.5v8.3"/>
<rect class="s" x="1525.5" y="1675.5" width="1150" height="1150"/>
<text x="1752.4" y="2899" text-anchor="middle" font-size="58.33">10<tspan dy="-21.8" font-size="40.83">-1</tspan></text>
<text x="2101.8" y="2899" text-anchor="middle" font-size="58.33">10<tspan dy="-21.8" font-size="40.83">0</tspan></text>
<text x="2451.2" y="2899" text-anchor="middle" font-size="58.33">10<tspan dy="-21.8" font-size="40.83">1</tspan></text>
<path class="tk" d="M2750.5 2825.5h-15.1M2750.5 2667.5h-15.1M2750.5 2510.5h-15.1M2750.5 2352.5h-15.1M2750.5 2195.5h-15.1M2750.5 2037.5h-15.1M2750.5 1880.5h-15.1M2750.5 1722.5h-15.1M2976.5 2825.5v14.6M3326.5 2825.5v14.6M3675.5 2825.5v14.6"/>
<path class="mt" d="M2750.5 2778.5h-8.3M2750.5 2750.5h-8.3M2750.5 2730.5h-8.3M2750.5 2715.5h-8.3M2750.5 2702.5h-8.3M2750.5 2692.5h-8.3M2750.5 2683.5h-8.3M2750.5 2675.5h-8.3M2750.5 2620.5h-8.3M2750.5 2592.5h-8.3M2750.5 2573.5h-8.3M2750.5 2557.5h-8.3M2750.5 2545.5h-8.3M2750.5 2534.5h-8.3M2750.5 2525.5h-8.3M2750.5 2517.5h-8.3M2750.5 2463.5h-8.3M2750.5 2435.5h-8.3M2750.5 2415.5h-8.3M2750.5 2400.5h-8.3M2750.5 2387.5h-8.3M2750.5 2377.5h-8.3M2750.5 2368.5h-8.3M2750.5 2360.5h-8.3M2750.5 2305.5h-8.3M2750.5 2277.5h-8.3M2750.5 2258.5h-8.3M2750.5 2242.5h-8.3M2750.5 2230.5h-8.3M2750.5 2219.5h-8.3M2750.5 2210.5h-8.3M2750.5 2202.5h-8.3M2750.5 2148.5h-8.3M2750.5 2120.5h-8.3M2750.5 2100.5h-8.3M2750.5 2085.5h-8.3M2750.5 2072.5h-8.3M2750.5 2062.5h-8.3M2750.5 2053.5h-8.3M2750.5 2045.5h-8.3M2750.5 1990.5h-8.3M2750.5 1962.5h-8.3M2750.5 1943.5h-8.3M2750.5 1927.5h-8.3M2750.5 1915.5h-8.3M2750.5 1904.5h-8.3M2750.5 1895.5h-8.3M2750.5 1887.5h-8.3M2750.5 1833.5h-8.3M2750.5 1805.5h-8.3M2750.5 1785.5h-8.3M2750.5 1770.5h-8.3M2750.5 1757.5h-8.3M2750.5 1747.5h-8.3M2750.5 1738.5h-8.3M2750.5 1730.5h-8.3M2750.5 1675.5h-8.3M2794.5 2825.5v8.3M2837.5 2825.5v8.3M2871.5 2825.5v8.3M2899.5 2825.5v8.3M2922.5 2825.5v8.3M2942.5 2825.5v8.3M2960.5 2825.5v8.3M3082.5 2825.5v8.3M3143.5 2825.5v8.3M3187.5 2825.5v8.3M3221.5 2825.5v8.3M3248.5 2825.5v8.3M3272.5 2825.5v8.3M3292.5 2825.5v8.3M3310.5 2825.5v8.3M3431.5 2825.5v8.3M3492.5 2825.5v8.3M3536.5 2825.5v8.3M3570.5 2825.5v8.3M3598.5 2825.5v8.3M3621.5 2825.5v8.3M3641.5 2825.5v8.3M3659.5 2825.5v8.3M3780.5 2825.5v8.3M3842.5 2825.5v8.3M3886.5 2825.5v8.3"/>
<rect class="s" x="2750.5" y="1675.5" width="1150" height="1150"/>
<text x="2977.4" y="2899" text-anchor="middle" font-size="58.33">10<tspan dy="-21.8" font-size="40.83">-1</tspan></text>
<text x="3326.8" y="2899" text-anchor="middle" font-size="58.33">10<tspan dy="-21.8" font-size="40.83">0</tspan></text>
<text x="3676.2" y="2899" text-anchor="middle" font-size="58.33">10<tspan dy="-21.8" font-size="40.83">1</tspan></text>
<text x="631.6" y="275.8" font-size="70.00" class="mi">ρ</text>
<text x="662.1" y="285.9" font-size="49.00" class="m">1</text>
<text x="705.1" y="275.8" font-size="66.00" class="m">:</text>
<text x="758.6" y="275.8" font-size="70.00" letter-spacing="0.3">coherence</text>
<text x="1854.7" y="275.8" font-size="70.00" class="mi">ρ</text>
<text x="1887.2" y="285.9" font-size="49.00" class="m">2</text>
<text x="1928.2" y="275.8" font-size="66.00" class="m">:</text>
<text x="1981.2" y="275.8" font-size="70.00">population</text>
<text x="3081.6" y="275.8" font-size="70.00" class="mi">ρ</text>
<text x="3112.1" y="285.9" font-size="49.00" class="m">3</text>
<text x="3155.1" y="275.8" font-size="66.00" class="m">:</text>
<text x="3208.6" y="275.8" font-size="70.00" letter-spacing="0.3">coherence</text>
<text x="2100" y="1596" text-anchor="middle" font-size="58.33">t (fs)</text>
<text x="2048.0" y="2973.7" font-size="60.00" class="m" textLength="48.0" lengthAdjust="spacingAndGlyphs">Δ</text>
<text x="2099.0" y="2983.0" font-size="42.00" class="mi">t</text>
<text x="2117.0" y="2973.7" font-size="60.00" class="m">Γ</text>
<g transform="translate(123.2 875) rotate(-90)">
<text x="-131.0" y="0.0" font-size="58.33" class="mi">ρ</text>
<text x="-104.0" y="4.4" font-size="65.30" class="p">(</text>
<text x="-82.0" y="0.0" font-size="64.00" class="mi">t</text>
<text x="-63.5" y="4.4" font-size="65.30" class="p">)</text>
<text x="-19.0" y="0.0" font-size="58.33">(a.u.)</text>
</g>
<g transform="translate(123.2 2250) rotate(-90)">
<text x="-161.5" y="0.0" font-size="47.00">max</text>
<text x="-60.0" y="4.0" font-size="44.00" class="m">|</text>
<text x="-47.4" y="0.0" font-size="58.33" class="mi">ρ</text>
<text x="-19.0" y="4.0" font-size="44.00" class="m">|</text>
<text x="9.0" y="0.0" font-size="58.33">(a.u.)</text>
</g>
</svg></body></html>
